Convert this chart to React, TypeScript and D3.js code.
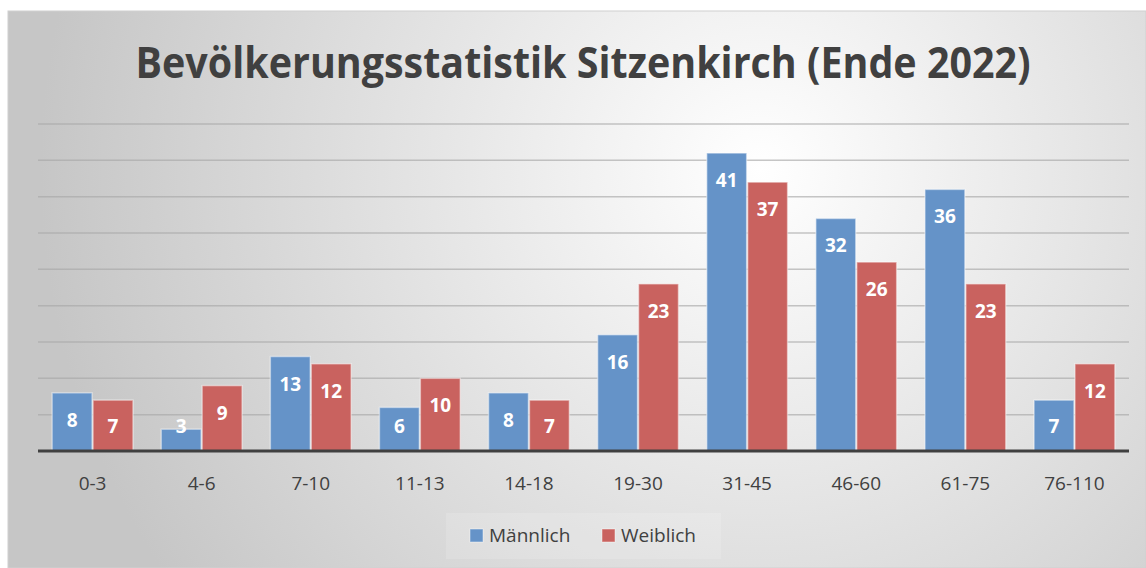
import React, { useRef, useEffect } from "react";
import * as d3 from "d3";

const categories = ["0-3", "4-6", "7-10", "11-13", "14-18", "19-30", "31-45", "46-60", "61-75", "76-110"];
const seriesNames = ["Männlich", "Weiblich"];
const maleValues = [8, 3, 13, 6, 8, 16, 41, 32, 36, 7];
const femaleValues = [7, 9, 12, 10, 7, 23, 37, 26, 23, 12];
const gridTicks = [5, 10, 15, 20, 25, 30, 35, 40, 45];
const title = "Bevölkerungsstatistik Sitzenkirch (Ende 2022)";

const colors = ["#6593c8", "#c9625f"];
const FONT = "'Open Sans', 'Noto Sans', sans-serif";

const App: React.FC = () => {
  const svgRef = useRef<SVGSVGElement | null>(null);

  useEffect(() => {
    if (!svgRef.current) return;
    const width = 1146;
    const height = 568;
    const svg = d3.select(svgRef.current);
    svg.selectAll("*").remove();
    svg.attr("width", width).attr("height", height);

    // fondo con degradado radial
    const defs = svg.append("defs");
    const grad = defs
      .append("radialGradient")
      .attr("id", "bg")
      .attr("gradientUnits", "userSpaceOnUse")
      .attr("cx", 760)
      .attr("cy", 170)
      .attr("r", 720);
    grad.append("stop").attr("offset", 0).attr("stop-color", "#ffffff");
    grad.append("stop").attr("offset", 1).attr("stop-color", "#c6c6c6");

    svg
      .append("rect")
      .attr("x", 8)
      .attr("y", 11)
      .attr("width", width - 8)
      .attr("height", height - 11)
      .attr("fill", "url(#bg)")
      .attr("stroke", "#d0d0d0")
      .attr("stroke-width", 1);

    const margin = { top: 124, left: 38, right: 17, bottom: 117 };
    const x0 = d3
      .scaleBand()
      .domain(categories)
      .range([margin.left, width - margin.right])
      .paddingInner(0.25)
      .paddingOuter(0.125);
    const x1 = d3.scaleBand().domain(seriesNames).range([0, x0.bandwidth()]);
    const y = d3.scaleLinear().domain([0, 45]).range([height - margin.bottom, margin.top]);

    // título
    svg
      .append("text")
      .attr("x", 583)
      .attr("y", 78)
      .attr("text-anchor", "middle")
      .attr("font-family", FONT)
      .attr("font-weight", "bold")
      .attr("font-size", 43)
      .attr("fill", "#404040")
      .attr("textLength", 895)
      .attr("lengthAdjust", "spacingAndGlyphs")
      .text(title);

    // líneas de cuadrícula
    svg
      .append("g")
      .selectAll("line")
      .data(gridTicks)
      .enter()
      .append("line")
      .attr("x1", margin.left)
      .attr("x2", width - margin.right)
      .attr("y1", (d) => y(d))
      .attr("y2", (d) => y(d))
      .attr("stroke", "#a8a8a8")
      .attr("stroke-opacity", 0.65)
      .attr("stroke-width", 1.5);

    const series = [maleValues, femaleValues];
    series.forEach((vals, si) => {
      const g = svg.append("g");
      g.selectAll("rect")
        .data(vals)
        .enter()
        .append("rect")
        .attr("x", (_, i) => (x0(categories[i]) ?? 0) + (x1(seriesNames[si]) ?? 0) + 0.5)
        .attr("y", (d) => y(d))
        .attr("width", x1.bandwidth() - 1)
        .attr("height", (d) => y(0) - y(d))
        .attr("fill", colors[si])
        .attr("stroke", "#ffffff")
        .attr("stroke-opacity", 0.45)
        .attr("stroke-width", 1.5);

      g.selectAll("text")
        .data(vals)
        .enter()
        .append("text")
        .attr("x", (_, i) => (x0(categories[i]) ?? 0) + (x1(seriesNames[si]) ?? 0) + x1.bandwidth() / 2)
        .attr("y", (d) => Math.min(y(d) + 27, y(0) - 25) + 7)
        .attr("text-anchor", "middle")
        .attr("font-family", FONT)
        .attr("font-weight", "bold")
        .attr("font-size", 19)
        .attr("fill", "#ffffff")
        .text((d) => d);
    });

    // eje base
    svg
      .append("line")
      .attr("x1", margin.left)
      .attr("x2", width - margin.right)
      .attr("y1", y(0))
      .attr("y2", y(0))
      .attr("stroke", "#404040")
      .attr("stroke-width", 3);

    // etiquetas del eje X
    svg
      .append("g")
      .selectAll("text")
      .data(categories)
      .enter()
      .append("text")
      .attr("x", (d) => (x0(d) ?? 0) + x0.bandwidth() / 2)
      .attr("y", y(0) + 39)
      .attr("text-anchor", "middle")
      .attr("font-family", FONT)
      .attr("font-size", 19)
      .attr("fill", "#404040")
      .text((d) => d);

    // leyenda
    const legend = svg.append("g");
    legend
      .append("rect")
      .attr("x", 446)
      .attr("y", 513)
      .attr("width", 275)
      .attr("height", 46)
      .attr("fill", "#ffffff")
      .attr("fill-opacity", 0.15);
    const legendX = [470, 602];
    seriesNames.forEach((name, i) => {
      legend
        .append("rect")
        .attr("x", legendX[i])
        .attr("y", 529)
        .attr("width", 13)
        .attr("height", 13)
        .attr("fill", colors[i])
        .attr("stroke", "#ffffff")
        .attr("stroke-opacity", 0.45);
      legend
        .append("text")
        .attr("x", legendX[i] + 19)
        .attr("y", 542)
        .attr("font-family", FONT)
        .attr("font-size", 19)
        .attr("fill", "#404040")
        .text(name);
    });
  }, []);

  return <svg ref={svgRef} style={{ position: "absolute", left: 0, top: 0 }}></svg>;
};

export default App;
